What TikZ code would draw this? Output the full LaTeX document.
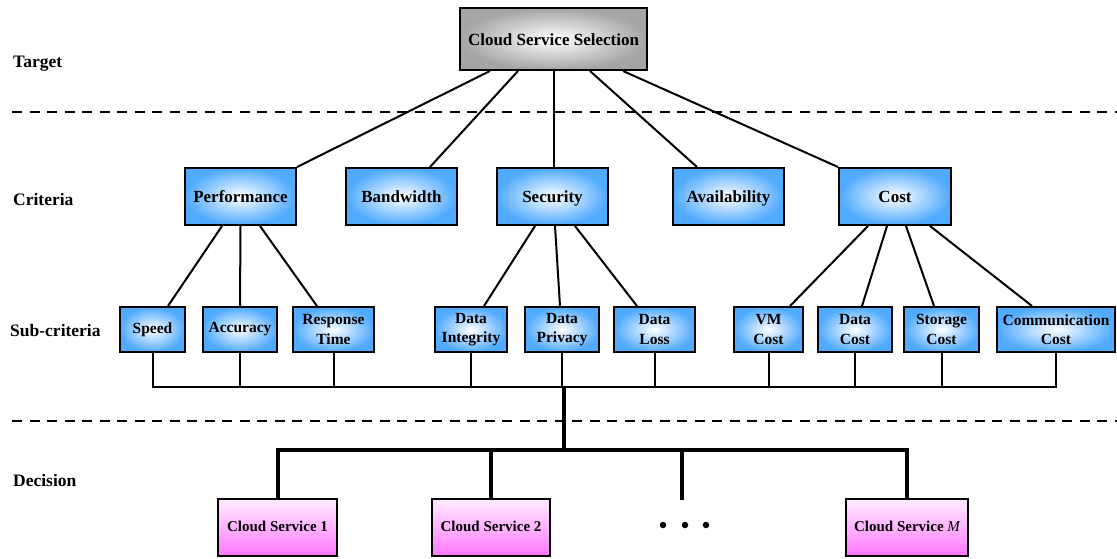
\documentclass[tikz,border=0pt]{standalone}
\usepackage{fontspec}
\setmainfont{Liberation Serif}
\usetikzlibrary{calc}

\definecolor{skyblue}{RGB}{80,170,255}
\definecolor{greyedge}{RGB}{165,165,165}
\definecolor{pinktop}{RGB}{255,236,255}
\definecolor{pinkbot}{RGB}{255,120,255}

\tikzset{
  box/.style={draw=black, line width=2pt, inner sep=0pt, align=center,
              text=black, font=\bfseries},
  goalbox/.style={box, inner color=white, outer color=greyedge,
                  minimum width=187pt, minimum height=62pt,
                  text height=13pt, text depth=1pt,
                  font=\bfseries\fontsize{17}{20}\selectfont},
  critbox/.style={box, inner color=white, outer color=skyblue,
                  minimum height=57pt, text height=13pt, text depth=1.5pt,
                  font=\bfseries\fontsize{17}{20}\selectfont},
  subbox/.style={box, inner color=white, outer color=skyblue,
                 minimum height=45pt,
                 font=\bfseries\fontsize{15.5}{19.5}\selectfont},
  altbox/.style={box, top color=pinktop, bottom color=pinkbot,
                 minimum height=57pt, text height=11pt, text depth=3pt,
                 font=\bfseries\fontsize{15}{18}\selectfont},
  levellabel/.style={anchor=west, inner sep=0pt,
                     font=\bfseries\fontsize{17.5}{20}\selectfont},
  link/.style={draw=black, line width=2pt},
  trunk/.style={draw=black, line width=4pt},
  divider/.style={draw=black, line width=2pt, dash pattern=on 10pt off 7.5pt},
  dot/.style={circle, fill=black, inner sep=0pt, minimum size=6.5pt}
}

\begin{document}
\begin{tikzpicture}[x=1pt, y=-1pt]
\useasboundingbox (0,0) rectangle (1117,558);

% level separators
\coordinate (sepA1) at (12,112);  \coordinate (sepA2) at (1117,112);
\coordinate (sepB1) at (12,421);  \coordinate (sepB2) at (1117,421);
\draw[divider] (sepA1) -- (sepA2);
\draw[divider] (sepB1) -- (sepB2);

% level names
\node[levellabel] (lvTarget)   at (13,64)  {Target};
\node[levellabel] (lvCriteria) at (13,200) {Criteria};
\node[levellabel] (lvSub)      at (10,331) {Sub-criteria};
\node[levellabel] (lvDecision) at (13,481) {Decision};

% goal
\node[goalbox] (goal) at (553.5,39) {Cloud Service Selection};

% criteria
\node[critbox, minimum width=111pt] (perf)  at (240.5,196.5) {Performance};
\node[critbox, minimum width=111pt] (band)  at (401.5,196.5) {Bandwidth};
\node[critbox, minimum width=111pt] (sec)   at (552.5,196.5) {Security};
\node[critbox, minimum width=111pt] (avail) at (728.5,196.5) {Availability};
\node[critbox, minimum width=112pt] (cost)  at (895,196.5)   {Cost};

% sub-criteria
\node[subbox, minimum width=65pt]  (speed) at (152.5,329.5) {Speed};
\node[subbox, minimum width=74pt]  (acc)   at (240,329.5)   {Accuracy};
\node[subbox, minimum width=81pt]  (resp)  at (333.5,329.5) {Response\\Time};
\node[subbox, minimum width=72pt]  (integ) at (471,329.5)   {Data\\Integrity};
\node[subbox, minimum width=74pt]  (priv)  at (562,329.5)   {Data\\Privacy};
\node[subbox, minimum width=81pt]  (loss)  at (654.5,329.5) {Data\\Loss};
\node[subbox, minimum width=69pt]  (vm)    at (768.5,329.5) {VM\\Cost};
\node[subbox, minimum width=74pt]  (dcost) at (855,329.5)   {Data\\Cost};
\node[subbox, minimum width=75pt]  (stor)  at (941.5,329.5) {Storage\\Cost};
\node[subbox, minimum width=118pt] (comm)  at (1056,329.5)  {Communication\\Cost};

% alternatives
\node[altbox, minimum width=119pt] (cs1) at (277.5,527.5) {Cloud Service 1};
\node[altbox, minimum width=118pt] (cs2) at (491,527.5)   {Cloud Service 2};
\node[altbox, minimum width=122pt] (csM) at (907,527.5)   {Cloud Service {\mdseries\itshape M}};
\node[dot] (d1) at (663,525) {};
\node[dot] (d2) at (685,525) {};
\node[dot] (d3) at (706,525) {};

% goal -> criteria
\draw[link] ([xshift=-63.5pt]goal.south) -- (perf.north east);
\draw[link] ([xshift=-35.5pt]goal.south) -- ([xshift=28.5pt]band.north);
\draw[link] (goal.south) -- (goal.south |- sec.north);
\draw[link] ([xshift=36.5pt]goal.south) -- ([xshift=-31.5pt]avail.north);
\draw[link] ([xshift=69.5pt]goal.south) -- (cost.north west);

% criteria -> sub-criteria
\draw[link] ([xshift=-18.5pt]perf.south) -- ([xshift=15.5pt]speed.north);
\draw[link] (perf.south) -- (acc.north);
\draw[link] ([xshift=19.5pt]perf.south) -- ([xshift=-16.5pt]resp.north);
\draw[link] ([xshift=-17.5pt]sec.south) -- ([xshift=13pt]integ.north);
\draw[link] ([xshift=2.5pt]sec.south) -- ([xshift=-2pt]priv.north);
\draw[link] ([xshift=22.5pt]sec.south) -- ([xshift=-17.5pt]loss.north);
\draw[link] ([xshift=-27pt]cost.south) -- ([xshift=21.5pt]vm.north);
\draw[link] ([xshift=-8pt]cost.south) -- ([xshift=7pt]dcost.north);
\draw[link] ([xshift=11pt]cost.south) -- ([xshift=-7.5pt]stor.north);
\draw[link] ([xshift=35pt]cost.south) -- ([xshift=-24pt]comm.north);

% sub-criteria collector bus
\coordinate (busY) at (0,387);
\draw[link] (speed.south) -- (speed.south |- busY) -- (comm.south |- busY) -- (comm.south);
\foreach \n in {acc,resp,integ,priv,loss,vm,dcost,stor}
  \draw[link] (\n.south) -- (\n.south |- busY);

% trunk down to the alternatives
\coordinate (hub)   at (564,387);
\coordinate (split) at (564,450);
\coordinate (more)  at (682,500);
\draw[trunk] (hub) -- (split);
\draw[trunk, line cap=rect] (cs1.north |- split) -- (csM.north |- split);
\draw[trunk] (cs1.north |- split) -- (cs1.north);
\draw[trunk] (cs2.north |- split) -- (cs2.north);
\draw[trunk] (more |- split) -- (more);
\draw[trunk] (csM.north |- split) -- (csM.north);
\end{tikzpicture}
\end{document}
